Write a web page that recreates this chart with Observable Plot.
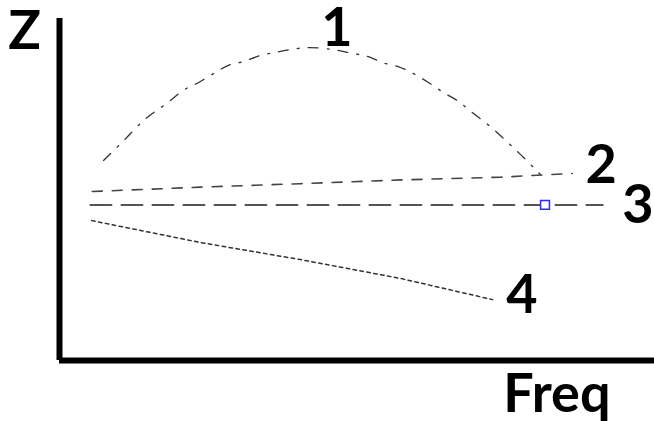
<!DOCTYPE html>
<html>
<head>
<meta charset="utf-8">
<script src="https://cdn.jsdelivr.net/npm/d3@7"></script>
<script src="https://cdn.jsdelivr.net/npm/@observablehq/plot@0.6"></script>
<style>
  html, body { margin: 0; padding: 0; background: #fff; }
  #chart svg { display: block; }
</style>
</head>
<body>
<div id="chart"></div>
<script>
// Curve 1 (dash-dot arc)
const curve1X = [7.4,10.8,13.6,15.6,18.2,20.8,23.4,25.9,28.4,30.9,33.8,36.3,38.8,41.7,46.1,49.2,51.8,54.3,56.8,59.5,62.0,64.5,67.1,69.6,72.4,75.0,77.5,79.7,80.8];
const curve1Y = [58.5,64.3,69.3,72.2,75.4,79.0,81.3,83.9,86.3,87.4,89.2,90.1,90.9,91.5,90.9,89.8,88.9,87.1,86.0,83.9,81.3,78.4,75.7,72.2,68.4,64.3,60.2,56.4,54.4];
// Curve 2 (dashed, rising slightly)
const curve2X = [5.5,23.7,40.5,57.3,74.1,86.2];
const curve2Y = [49.4,50.7,51.7,52.8,53.6,54.7];
// Curve 3 (long dash, flat)
const curve3X = [5.2,91.3];
const curve3Y = [45.5,45.5];
// Marker on curve 3
const markerX = [81.6];
const markerY = [45.5];
// Curve 4 (dotted, falling)
const curve4X = [5.4,23.7,40.5,57.3,72.8];
const curve4Y = [40.9,34.5,29.5,24.0,17.8];
// Labels
const labelText = ["1","2","3","4"];
const labelX = [44.0,88.4,94.6,75.1];
const labelY = [92.1,51.8,40.1,14.0];
const axisTitleText = ["Z","Freq"];
const axisTitleX = [-8.6,74.6];
const axisTitleY = [91.2,-15.2];

const toPts = (xs, ys) => xs.map((x, i) => ({x, y: ys[i]}));
const c1 = toPts(curve1X, curve1Y);
const c2 = toPts(curve2X, curve2Y);
const c3 = toPts(curve3X, curve3Y);
const c4 = toPts(curve4X, curve4Y);
const mk = toPts(markerX, markerY);
const labels = labelText.map((t, i) => ({t, x: labelX[i], y: labelY[i]}));
const titles = axisTitleText.map((t, i) => ({t, x: axisTitleX[i], y: axisTitleY[i]}));

const chart = Plot.plot({
  width: 654,
  height: 421,
  marginLeft: 59,
  marginRight: 0,
  marginTop: 18,
  marginBottom: 61,
  style: {background: "#fff", fontFamily: "Lato, sans-serif"},
  x: {domain: [0, 100], axis: null},
  y: {domain: [0, 100], axis: null},
  marks: [
    Plot.line(c1, {x: "x", y: "y", stroke: "#333", strokeWidth: 1.3, strokeDasharray: "10,9,2,9", curve: "catmull-rom"}),
    Plot.line(c2, {x: "x", y: "y", stroke: "#444", strokeWidth: 1.6, strokeDasharray: "10,10"}),
    Plot.line(c3, {x: "x", y: "y", stroke: "#555", strokeWidth: 2, strokeDasharray: "21,10"}),
    Plot.line(c4, {x: "x", y: "y", stroke: "#333", strokeWidth: 1.5, strokeDasharray: "3.5,3.5"}),
    Plot.dot(mk, {x: "x", y: "y", symbol: "square", r: 5, fill: "#fff", stroke: "#2b2bff", strokeWidth: 1.5}),
    Plot.ruleX([0], {stroke: "#000", strokeWidth: 6}),
    Plot.ruleY([0], {stroke: "#000", strokeWidth: 6}),
    Plot.text(labels, {x: "x", y: "y", text: "t", textAnchor: "start", lineAnchor: "bottom", fontSize: 54, fontWeight: "bold", fill: "#000", fontFamily: "Lato"}),
    Plot.text(titles, {x: "x", y: "y", text: "t", textAnchor: "start", lineAnchor: "bottom", fontSize: 54, fontWeight: "bold", fill: "#000", fontFamily: "Lato"})
  ]
});
document.getElementById("chart").appendChild(chart);
</script>
</body>
</html>
